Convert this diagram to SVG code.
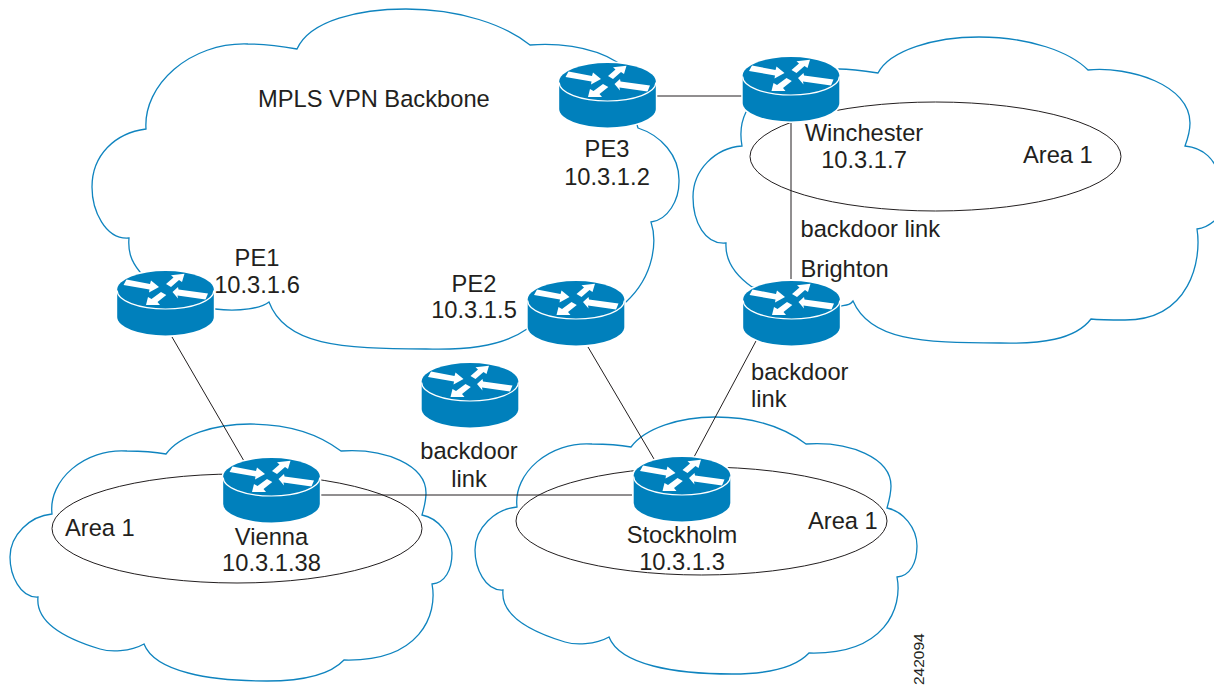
<svg xmlns="http://www.w3.org/2000/svg" xmlns:xlink="http://www.w3.org/1999/xlink" width="1214" height="685" viewBox="0 0 1214 685">
<style>
.cloud{fill:none;stroke:#0f84bf;stroke-width:1.3}
.area{fill:none;stroke:#231f20;stroke-width:1}
.link{fill:none;stroke:#231f20;stroke-width:1}
.body{fill:#0080bc;stroke:#fff;stroke-width:3;paint-order:stroke}
.rim{fill:none;stroke:#fff;stroke-width:1.2}
.arrow{fill:#fff}
text{font-family:"Liberation Sans",Arial,sans-serif;font-size:23.7px;fill:#231f20}
.m{text-anchor:middle}
</style>
<defs>
<symbol id="router" overflow="visible">
<path class="body" d="M-48.3,18.5A48.3,18.5 0 0 1 48.3,18.5V46A48.3,18.5 0 0 1 -48.3,46Z"/>
<path class="rim" d="M-48.3,19.5A48.3,18.5 0 0 0 48.3,19.5"/>
<polygon class="arrow" points="-42,14 -39,8.5 -15.5,13 -14.5,9.5 -6.5,16 -16.5,21.5 -16,18.5"/>
<polygon class="arrow" points=".5,13 8,6.5 5.5,4.3 19,2.8 16.5,11 13.5,9 5.5,16"/>
<polygon class="arrow" points="7,21 12.5,16 13,18.5 42.5,22.5 40,28.5 12,24.5 12.5,27.5"/>
<polygon class="arrow" points="-19.5,34 -17.5,26 -14,28 -4.5,21 .8,24 -8,31 -5.5,34"/>
</symbol>
<path id="areaCloud" class="cloud" d="M166,454C180,435 215,424 250,424C290,424 320,435 341,451C385,448 426,465 426,493C426,500 424,508 422,515C438,518 452,535 452,553C452,570 445,583 432,584C438,615 420,662 344,660C330,675 300,681 267,681C210,681 155,672 144,644C130,652 110,652 100,649C70,640 35,625 38,597C20,598 10,575 10,557C10,535 30,516 52,514C48,480 85,448 127,451C140,451 155,452 166,454Z"/>
</defs>
<g id="clouds">
<path id="backbone-cloud" class="cloud" d="M146,129C143,85 190,42 248,44C265,44 280,46 297,49C310,20 360,9 406,9C460,9 505,25 530,45C553,43 590,45 617,62L638,128C660,135 680,155 679,182C679,200 668,220 651,222C657,240 655,275 626,302L527,329C500,348 460,350 426,349C340,349 285,345 269,302C262,308 240,312 215,309L140,272C130,260 128,250 129,238C105,240 92,210 92,187C92,155 115,133 146,129Z"/>
<path id="winchester-cloud" class="cloud" d="M878,73C890,50 935,37 979,37C1030,37 1070,52 1088,70C1130,66 1190,85 1190,123C1190,128 1188,138 1185,146C1205,148 1214,160 1220,175L1220,215C1214,222 1205,228 1197,229C1202,260 1190,320 1125,320C1110,320 1100,320 1091,319C1075,340 1040,344 1000,343C920,343 870,340 853,301C850,305 847,305 841,306L752,287C735,275 725,260 726,243C705,245 693,222 693,197C693,170 715,148 742,146C740,135 741,122 746,112L839,69C850,69 865,71 878,73Z"/>
<use id="vienna-cloud" href="#areaCloud"/>
<use id="stockholm-cloud" href="#areaCloud" transform="translate(465,-7)"/>
<ellipse id="winchester-area" class="area" cx="935.5" cy="156.5" rx="185.5" ry="54.5"/>
<ellipse id="vienna-area" class="area" cx="237" cy="528.5" rx="185" ry="54.5"/>
<ellipse id="stockholm-area" class="area" cx="701.5" cy="521" rx="185.5" ry="54"/>
</g>
<g id="connectors">
<line class="link" x1="657" y1="96" x2="742" y2="96"/>
<line class="link" x1="791" y1="123" x2="791" y2="279"/>
<line class="link" x1="172" y1="337" x2="244" y2="461"/>
<line class="link" x1="588" y1="347" x2="654" y2="459"/>
<line class="link" x1="756" y1="341" x2="694" y2="457"/>
<line class="link" x1="321" y1="495" x2="632" y2="495"/>
</g>
<g id="PE1"><use href="#router" x="165.5" y="271"/><text class="m" x="257" y="266">PE1</text><text class="m" x="257" y="293">10.3.1.6</text></g>
<g id="PE2"><use href="#router" x="576" y="281"/><text class="m" x="474" y="292">PE2</text><text class="m" x="474" y="318">10.3.1.5</text></g>
<g id="PE3"><use href="#router" x="607.5" y="63"/><text class="m" x="607" y="157">PE3</text><text class="m" x="607" y="185">10.3.1.2</text></g>
<g id="Winchester"><use href="#router" x="791" y="57"/><text class="m" x="864" y="141">Winchester</text><text class="m" x="864" y="168">10.3.1.7</text></g>
<g id="Brighton"><use href="#router" x="791.5" y="281"/><text x="800.5" y="277">Brighton</text></g>
<g id="Backdoor-router"><use href="#router" x="470" y="363"/></g>
<g id="Vienna"><use href="#router" x="271.5" y="458"/><text class="m" x="271.5" y="545">Vienna</text><text class="m" x="271.5" y="571">10.3.1.38</text></g>
<g id="Stockholm"><use href="#router" x="682" y="457"/><text class="m" x="682" y="543">Stockholm</text><text class="m" x="682" y="570">10.3.1.3</text></g>
<g id="labels">
<text x="258" y="107">MPLS VPN Backbone</text>
<text x="1023" y="163">Area 1</text>
<text x="65" y="536">Area 1</text>
<text x="808" y="529">Area 1</text>
<text x="800.5" y="237">backdoor link</text>
<text x="751" y="380">backdoor</text>
<text x="751" y="407">link</text>
<text class="m" x="469" y="459">backdoor</text>
<text class="m" x="469" y="487">link</text>
<text transform="translate(924,685) rotate(-90)" style="font-size:15.5px">242094</text>
</g>
</svg>
